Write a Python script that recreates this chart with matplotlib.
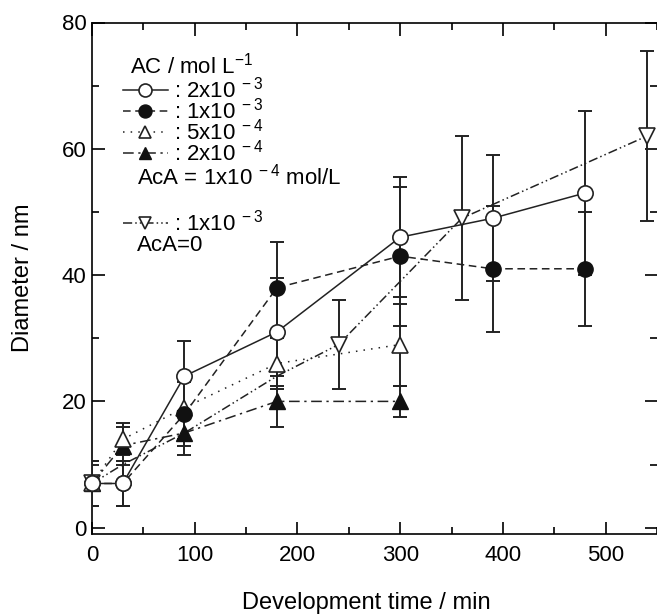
import numpy as np
import matplotlib
matplotlib.use('Agg')
import matplotlib.pyplot as plt
from matplotlib.ticker import MultipleLocator

plt.rcParams['font.family'] = ['Liberation Sans', 'DejaVu Sans']
plt.rcParams['mathtext.fontset'] = 'custom'
plt.rcParams['mathtext.rm'] = 'Liberation Sans'
plt.rcParams['mathtext.it'] = 'Liberation Sans'

# AC = 2x10^-3 (open circle)
t_a = [0, 30, 90, 180, 300, 390, 480]
d_a = [7, 7, 24, 31, 46, 49, 53]
e_a = [3.5, 3.5, 5.5, 8.5, 9.5, 10, 13]
# AC = 1x10^-3 (filled circle)
t_b = [0, 30, 90, 180, 300, 390, 480]
d_b = [7, 7, 18, 38, 43, 41, 41]
e_b = [3.5, 3.5, 5, 7.3, 11, 10, 9]
# AC = 5x10^-4 (open triangle)
t_c = [0, 30, 90, 180, 300]
d_c = [7, 14, 19, 26, 29]
e_c = [3.5, 2.5, 5, 4, 6.5]
# AC = 2x10^-4 (filled triangle)
t_d = [0, 30, 90, 180, 300]
d_d = [7, 13, 15, 20, 20]
e_d = [3.5, 3, 3.5, 4, 2.5]
# AcA = 0, AC = 1x10^-3 (open inverted triangle)
t_e = [0, 30, 90, 180, 240, 360, 540]
d_e = [7, 10, 15, 24, 29, 49, 62]
e_e = [3.5, 0, 0, 0, 7, 13, 13.5]
mark_e = [0, 4, 5, 6]  # points drawn with a marker

labels_ac = [r': 2x10$^{\ -3}$', r': 1x10$^{\ -3}$', r': 5x10$^{\ -4}$', r': 2x10$^{\ -4}$']
label_aca0 = r': 1x10$^{\ -3}$'

lw = 1.1
ms = 11
fs = 16
fig = plt.figure(figsize=(6.57, 6.16), dpi=100)
ax = fig.add_axes([92/657, 82/616, 565/657, 511.5/616])

eb = dict(ecolor='#222222', elinewidth=1.4, capsize=5, capthick=1.4, ls='none', zorder=3)

ax.errorbar([t_e[i] for i in mark_e], [d_e[i] for i in mark_e],
            yerr=[e_e[i] for i in mark_e], **eb)
ax.errorbar(t_d, d_d, yerr=e_d, **eb)
ax.errorbar(t_c, d_c, yerr=e_c, **eb)
ax.errorbar(t_b, d_b, yerr=e_b, **eb)
ax.errorbar(t_a, d_a, yerr=e_a, **eb)

le, = ax.plot(t_e, d_e, color='#222222', lw=lw, dashes=(6, 2, 1, 2, 1, 2),
              marker='v', ms=ms, mfc='white', mec='#222222', mew=1.2,
              markevery=mark_e, zorder=4, clip_on=False)
ld, = ax.plot(t_d, d_d, color='#222222', lw=lw, dashes=(7, 3, 1.5, 3),
              marker='^', ms=ms, mfc='#111111', mec='#111111', zorder=5, clip_on=False)
lc, = ax.plot(t_c, d_c, color='#222222', lw=lw, dashes=(1, 4),
              marker='^', ms=ms, mfc='white', mec='#222222', mew=1.2, zorder=6, clip_on=False)
lb, = ax.plot(t_b, d_b, color='#222222', lw=lw, dashes=(5, 3),
              marker='o', ms=ms, mfc='#111111', mec='#111111', zorder=7, clip_on=False)
la, = ax.plot(t_a, d_a, color='#222222', lw=lw, ls='-',
              marker='o', ms=ms, mfc='white', mec='#222222', mew=1.2, zorder=8, clip_on=False)

ax.set_xlim(0, 550)
ax.set_ylim(-1, 80)
ax.xaxis.set_major_locator(MultipleLocator(100))
ax.xaxis.set_minor_locator(MultipleLocator(50))
ax.yaxis.set_major_locator(MultipleLocator(20))
ax.yaxis.set_minor_locator(MultipleLocator(10))
ax.tick_params(which='both', direction='in', top=True, right=True, labelsize=fs, width=1.2)
ax.tick_params(which='major', length=9)
ax.tick_params(which='minor', length=5)
ax.tick_params(axis='x', pad=8)
ax.tick_params(axis='y', pad=4)
ax.spines['right'].set_visible(False)
for s in ['left', 'top', 'bottom']:
    ax.spines[s].set_linewidth(1.2)
ax.set_xlabel('Development time / min', fontsize=17)
ax.xaxis.set_label_coords(0.485, -0.135)
ax.xaxis.label.set_va('center')
ax.set_ylabel('Diameter / nm', fontsize=17, labelpad=20)

# legend block
ax.text(0.068, 0.901, r'AC / mol L$^{-1}$', transform=ax.transAxes, fontsize=fs, va='baseline')
leg1 = ax.legend([la, lb, lc, ld], labels_ac, loc='center left', bbox_to_anchor=(0.055, 0.8065),
                 frameon=False, fontsize=fs, handlelength=2.0, handletextpad=0.3,
                 labelspacing=-0.22, borderpad=0, borderaxespad=0, markerscale=0.85)
ax.add_artist(leg1)
ax.text(0.080, 0.684, r'AcA = 1x10$^{\ -4}$ mol/L', transform=ax.transAxes, fontsize=fs, va='baseline')
leg2 = ax.legend([le], [label_aca0], loc='center left', bbox_to_anchor=(0.055, 0.608),
                 frameon=False, fontsize=fs, handlelength=2.0, handletextpad=0.3,
                 borderpad=0, borderaxespad=0, markerscale=0.85)
ax.text(0.080, 0.554, 'AcA=0', transform=ax.transAxes, fontsize=fs, va='baseline')

fig.savefig('out.png', dpi=100)
